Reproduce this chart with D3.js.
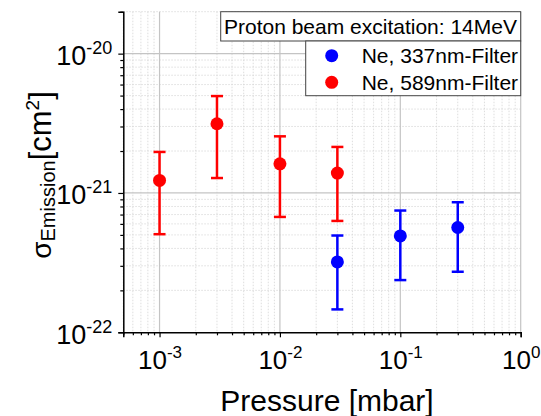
<!DOCTYPE html>
<html>
<head>
<meta charset="utf-8">
<script src="https://cdn.jsdelivr.net/npm/d3@7"></script>
<style>
  body { margin: 0; background: #fff; }
  text { font-family: Arial, "Liberation Sans", sans-serif; fill: #000; }
</style>
</head>
<body>
<div id="chart"></div>
<script>
// Data
const redPressure = [1e-3, 3e-3, 1e-2, 3e-2];
const redValue = [1.23e-21, 3.14e-21, 1.62e-21, 1.39e-21];
const redUpper = [1.97e-21, 4.96e-21, 2.55e-21, 2.14e-21];
const redLower = [5.06e-22, 1.28e-21, 6.73e-22, 6.3e-22];

const bluePressure = [3e-2, 1e-1, 3e-1];
const blueValue = [3.2e-22, 4.92e-22, 5.65e-22];
const blueUpper = [4.95e-22, 7.48e-22, 8.58e-22];
const blueLower = [1.46e-22, 2.37e-22, 2.72e-22];

const xMajor = [-3, -2, -1, 0];
const yMajor = [-22, -21, -20];
const legendTitle = "Proton beam excitation: 14MeV";
const seriesNames = ["Ne, 337nm-Filter", "Ne, 589nm-Filter"];
const seriesColors = ["#0000ff", "#ff0000"];

// Dimensions
const W = 541, H = 416;
const margin = {top: 11.7, right: 20.3, bottom: 83.7, left: 123.3};
const width = W - margin.left - margin.right,
      height = H - margin.top - margin.bottom;

const svg = d3.select("#chart").append("svg")
    .attr("width", W)
    .attr("height", H)
  .append("g")
    .attr("transform", `translate(${margin.left},${margin.top})`);

const x = d3.scaleLog().domain([5e-4, 1]).range([0, width]);
const y = d3.scaleLog().domain([1e-22, 2e-20]).range([height, 0]);

// minor values 2..9 per decade, inside the domain
function minors(scale, lo, hi) {
  const out = [];
  for (let e = lo; e <= hi; e++) {
    for (let m = 2; m <= 9; m++) {
      const v = m * Math.pow(10, e);
      const d = scale.domain();
      if (v >= d[0] * 0.999 && v <= d[1] * 1.001) out.push(v);
    }
  }
  return out;
}
const xMinor = minors(x, -4, -1);
const yMinor = minors(y, -22, -20);

// Grid: minor dotted, major solid
svg.append("g").selectAll("line")
  .data(xMinor)
  .join("line")
    .attr("x1", d => x(d)).attr("x2", d => x(d))
    .attr("y1", 0).attr("y2", height)
    .style("stroke", "#d6d6d6")
    .style("stroke-width", 0.8)
    .style("stroke-dasharray", "1.5,1.5");

svg.append("g").selectAll("line")
  .data(yMinor)
  .join("line")
    .attr("x1", 0).attr("x2", width)
    .attr("y1", d => y(d)).attr("y2", d => y(d))
    .style("stroke", "#d6d6d6")
    .style("stroke-width", 0.8)
    .style("stroke-dasharray", "1.5,1.5");

svg.append("g").selectAll("line")
  .data(xMajor.map(e => Math.pow(10, e)))
  .join("line")
    .attr("x1", d => x(d)).attr("x2", d => x(d))
    .attr("y1", 0).attr("y2", height)
    .style("stroke", "#c4c4c4")
    .style("stroke-width", 1.2);

svg.append("g").selectAll("line")
  .data(yMajor.slice(1).map(e => Math.pow(10, e)))
  .join("line")
    .attr("x1", 0).attr("x2", width)
    .attr("y1", d => y(d)).attr("y2", d => y(d))
    .style("stroke", "#c4c4c4")
    .style("stroke-width", 1.2);

// Axes
const xAxis = svg.append("g")
  .attr("transform", `translate(0,${height})`)
  .call(d3.axisBottom(x).tickValues(xMajor.map(e => Math.pow(10, e))).tickSize(5).tickFormat(""));
svg.append("g")
  .attr("transform", `translate(0,${height})`)
  .call(d3.axisBottom(x).tickValues(xMinor).tickSize(3).tickFormat(""))
  .call(g => g.select(".domain").remove());

const yAxis = svg.append("g")
  .call(d3.axisLeft(y).tickValues(yMajor.map(e => Math.pow(10, e))).tickSize(5).tickFormat(""));
svg.append("g")
  .call(d3.axisLeft(y).tickValues(yMinor).tickSize(3).tickFormat(""))
  .call(g => g.select(".domain").remove());

svg.selectAll(".domain").style("stroke", "#000").style("stroke-width", 1.5);
svg.selectAll(".tick line").style("stroke", "#000").style("stroke-width", 1.2);

// Tick labels as 10^n
xAxis.selectAll(".tick").each(function(d) {
  const t = d3.select(this).append("text")
    .attr("y", 37)
    .attr("text-anchor", "middle")
    .style("fill", "#000");
  t.append("tspan").style("font-size", "26px").text("10");
  t.append("tspan").style("font-size", "17px").attr("dy", -11)
    .text(Math.round(Math.log10(d)));
});

yAxis.selectAll(".tick").each(function(d) {
  const t = d3.select(this).append("text")
    .attr("x", -11)
    .attr("y", 11)
    .attr("text-anchor", "end")
    .style("fill", "#000");
  t.append("tspan").style("font-size", "27px").text("10");
  t.append("tspan").style("font-size", "18px").attr("dy", -11)
    .text(Math.round(Math.log10(d)));
});

// Axis titles
svg.append("text")
  .attr("x", width / 2 + 5)
  .attr("y", height + 79)
  .attr("text-anchor", "middle")
  .style("font-size", "30px")
  .text("Pressure [mbar]");

const yTitle = svg.append("text")
  .attr("transform", `translate(${51 - margin.left},${height / 2 + 3}) rotate(-90)`)
  .attr("text-anchor", "middle")
  .style("font-size", "31px");
yTitle.append("tspan").style("font-size", "28px").text("σ");
yTitle.append("tspan").style("font-size", "20px").attr("dy", 4).text("Emission");
yTitle.append("tspan").attr("dy", -4).text("[cm");
yTitle.append("tspan").style("font-size", "19px").attr("dy", -12).text("2");
yTitle.append("tspan").attr("dy", 12).text("]");

// Error bars and points
function drawSeries(px, val, lo, hi, color) {
  const data = px.map((p, i) => ({p, v: val[i], lo: lo[i], hi: hi[i]}));
  const g = svg.append("g");
  g.selectAll(".bar").data(data).join("line")
    .attr("x1", d => x(d.p)).attr("x2", d => x(d.p))
    .attr("y1", d => y(d.lo)).attr("y2", d => y(d.hi))
    .style("stroke", color).style("stroke-width", 2.5);
  g.selectAll(".capHi").data(data).join("line")
    .attr("x1", d => x(d.p) - 6).attr("x2", d => x(d.p) + 6)
    .attr("y1", d => y(d.hi)).attr("y2", d => y(d.hi))
    .style("stroke", color).style("stroke-width", 2.5);
  g.selectAll(".capLo").data(data).join("line")
    .attr("x1", d => x(d.p) - 6).attr("x2", d => x(d.p) + 6)
    .attr("y1", d => y(d.lo)).attr("y2", d => y(d.lo))
    .style("stroke", color).style("stroke-width", 2.5);
  g.selectAll("circle").data(data).join("circle")
    .attr("cx", d => x(d.p)).attr("cy", d => y(d.v))
    .attr("r", 6.5)
    .style("fill", color);
}
drawSeries(bluePressure, blueValue, blueLower, blueUpper, seriesColors[0]);
drawSeries(redPressure, redValue, redLower, redUpper, seriesColors[1]);

// Legend
const lg = svg.append("g");
lg.append("rect")
  .attr("x", 220.7 - margin.left).attr("y", 0)
  .attr("width", 300).attr("height", 29.3)
  .style("fill", "#fff").style("stroke", "#444").style("stroke-width", 1);
lg.append("text")
  .attr("x", 224 - margin.left).attr("y", 34.3 - margin.top)
  .style("font-size", "21px")
  .text(legendTitle);
lg.append("rect")
  .attr("x", 305.7 - margin.left).attr("y", 29.3)
  .attr("width", 215).attr("height", 54.7)
  .style("fill", "#fff").style("stroke", "#444").style("stroke-width", 1);
seriesNames.forEach((name, i) => {
  lg.append("circle")
    .attr("cx", 331.7 - margin.left).attr("cy", 55.7 - margin.top + i * 26.6)
    .attr("r", 6.5)
    .style("fill", seriesColors[i]);
  lg.append("text")
    .attr("x", 361.7 - margin.left).attr("y", 63 - margin.top + i * 26.6)
    .style("font-size", "21px")
    .text(name);
});
</script>
</body>
</html>
